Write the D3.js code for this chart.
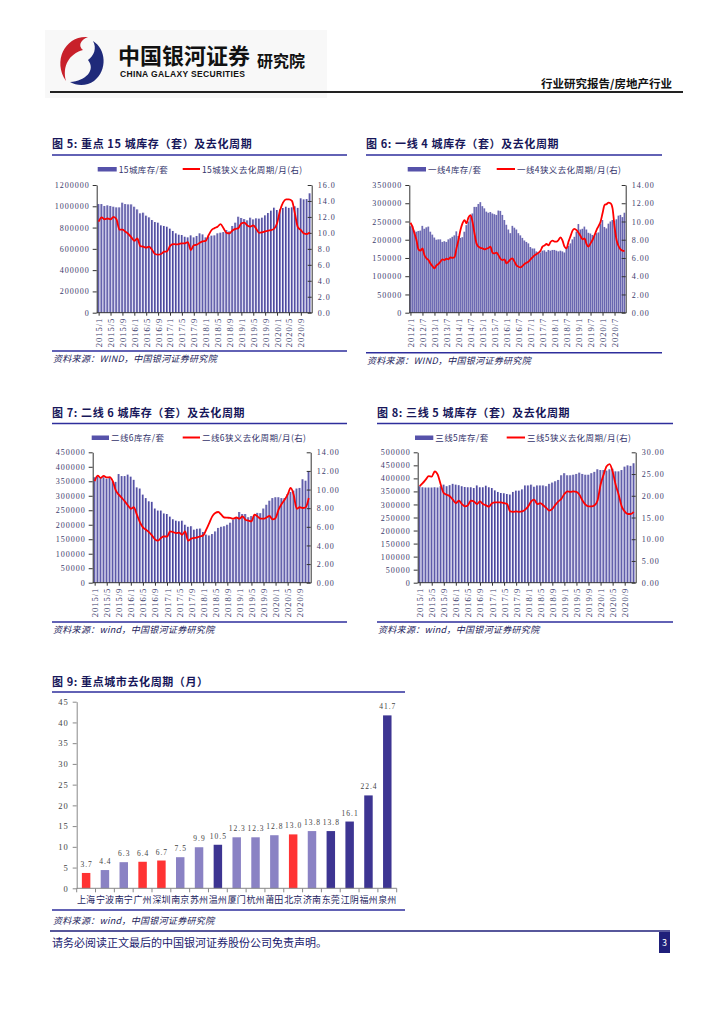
<!DOCTYPE html>
<html>
<head>
<meta charset="utf-8">
<script src="https://cdn.jsdelivr.net/npm/d3@7"></script>
<style>
body { margin: 0; background: #fff; }
svg text { font-family: "Noto Sans CJK SC", sans-serif; }
.tick text, .num { font-family: "Liberation Serif", "DejaVu Serif", serif; letter-spacing: 1px; }
.title { font-size: 11px; font-weight: bold; fill: #17175a; letter-spacing: 0.6px; }
.legend { font-size: 8.5px; fill: #33336b; letter-spacing: 0.4px; }
.src { font-size: 9px; font-style: italic; fill: #22225a; letter-spacing: 0.3px; }
</style>
</head>
<body>
<svg id="page" width="724" height="1024"></svg>
<script>
// ---- data ----
// 图5 重点15城 (2015/1 - 2020/12, monthly)
var inv15 = [1021000,1021000,1003000,1009000,1003000,996000,990000,990000,1034000,1021000,
  1018000,1018000,996000,971000,934000,940000,912000,896000,871000,852000,
  846000,821000,815000,808000,790000,768000,746000,733000,730000,714000,
  708000,727000,708000,721000,746000,736000,708000,714000,724000,727000,
  746000,752000,758000,777000,764000,815000,846000,902000,890000,880000,
  868000,893000,877000,887000,884000,893000,915000,937000,959000,987000,
  965000,971000,984000,996000,985000,990000,1000000,985000,1075000,1065000,
  1068000,1122000];
var cycle15 = [11.4,11.95,11.7,11.8,11.7,12.0,11.7,10.4,10.4,10.15,
  9.86,9.44,9.0,9.3,8.35,8.27,8.15,8.27,7.85,7.35,
  7.27,7.35,7.64,7.69,8.35,8.6,8.56,8.6,8.69,8.69,
  8.85,7.85,8.45,8.52,8.77,8.94,9.0,9.73,10.36,10.6,
  10.78,11.1,10.57,10.0,9.94,10.3,10.5,10.6,11.2,11.28,
  10.94,10.78,10.94,10.5,10.0,10.07,10.19,10.28,10.36,10.5,
  11.2,12.8,13.8,14.2,14.2,14.0,12.45,10.7,10.36,9.94,
  9.86,10.07];

// 图6 一线4城 (2012/1 - 2020/12)
var inv1 = [237,238,225,222,224,225,238,230,234,236,
  222,214,206,200,201,201,194,196,194,201,
  204,208,212,223,210,205,207,222,240,250,
  262,272,290,290,298,303,292,286,277,274,
  276,272,270,268,280,279,268,254,241,228,
  218,238,233,228,218,212,205,198,194,190,
  180,176,176,168,165,165,170,171,167,172,
  170,172,172,170,168,170,168,165,177,183,
  190,201,208,222,243,228,230,236,228,219,
  217,213,210,218,220,243,254,235,231,244,
  250,254,252,256,266,268,262,274].map(function(v){ return v * 1000; });
var cycle1 = [9.87,9.43,8.7,7.97,6.94,6.8,7.05,6.3,5.96,5.77,
  5.4,5.1,4.86,5.19,5.34,5.6,5.85,5.77,5.92,5.85,
  6.07,6.0,6.07,7.05,7.97,9.06,9.8,10.16,9.8,10.45,
  10.7,9.98,8.7,7.6,7.24,7.1,7.06,6.94,7.02,7.1,
  7.24,6.58,6.5,6.58,6.3,5.92,5.77,5.85,5.4,5.6,
  5.85,5.96,5.6,5.19,5.04,4.97,5.12,5.34,5.48,5.6,
  5.85,6.07,6.29,6.43,6.58,6.8,7.24,7.38,7.53,7.38,
  7.75,7.9,7.8,7.8,7.97,8.26,7.9,7.24,7.05,7.79,
  8.4,9.0,9.2,9.06,8.77,8.4,8.04,8.15,7.53,7.24,
  7.6,7.97,8.5,9.06,9.5,9.98,10.9,11.8,11.9,12.06,
  12.0,11.44,9.43,7.97,7.31,6.94,6.8,6.75];

// 图7 二线6城 (2015/1 - 2020/12)
var inv2 = [364,367,364,364,359,364,350,348,375,368,
  368,373,366,355,329,325,304,292,281,279,
  256,249,249,239,237,228,219,214,212,214,
  200,193,195,183,186,187,175,166,163,168,
  177,189,193,195,200,207,218,223,244,237,
  237,226,230,232,241,240,256,269,283,292,
  295,295,292,292,306,313,318,325,327,357,
  352,385].map(function(v){ return v * 1000; });
var cycle2 = [10.9,11.5,11.25,11.46,11.3,11.33,10.9,9.9,9.45,9.1,
  8.73,8.3,7.95,8.1,7.3,6.5,5.94,5.69,5.44,5.08,
  4.65,4.51,4.8,4.98,4.94,5.5,5.44,5.33,5.37,5.15,
  5.5,4.51,4.73,4.8,4.87,4.98,5.08,5.69,6.4,7.12,
  7.48,7.59,7.3,7.0,6.98,6.95,6.87,7.0,6.87,7.12,
  6.77,6.66,6.59,7.3,7.12,6.87,6.87,7.0,7.16,6.8,
  6.94,7.84,8.45,8.9,9.45,10.17,9.45,7.95,8.1,8.02,
  8.1,9.1];

// 图8 三线5城 (2015/1 - 2020/12)
var inv3 = [370,366,365,365,365,366,365,370,376,370,
  374,379,376,374,370,367,366,366,363,373,
  366,366,372,366,363,354,348,344,343,340,
  338,348,353,353,358,373,373,376,368,373,
  373,373,370,379,384,389,394,412,420,412,
  412,414,417,422,417,414,414,420,425,435,
  432,432,430,435,437,427,427,432,445,450,
  448,458].map(function(v){ return v * 1000; });
var cycle3 = [22.2,22.9,23.7,24.5,24.4,25.6,24.85,22.55,20.6,20.25,
  19.9,19.1,18.3,18.9,18.1,17.56,17.8,18.9,18.7,18.1,
  18.7,18.1,17.8,17.5,18.3,18.5,18.5,18.5,18.3,18.1,
  16.4,16.3,16.4,16.3,16.4,16.8,17.56,18.7,19.1,18.1,
  18.3,17.8,17.2,16.6,17.0,17.9,18.7,19.3,20.4,21.0,
  20.9,21.0,20.9,20.25,18.9,17.95,17.56,17.56,17.8,18.9,
  22.55,24.85,26.8,27.3,25.6,22.55,20.25,17.56,16.4,15.8,
  15.8,16.3];

// 图9 重点城市去化周期（月）
var cities = ["上海","宁波","南宁","广州","深圳","南京","苏州","温州","厦门","杭州","莆田","北京","济南","东莞","江阴","福州","泉州"];
var cityCycle = [3.7,4.4,6.3,6.4,6.7,7.5,9.9,10.5,12.3,12.3,12.8,13.0,13.8,13.8,16.1,22.4,41.7];
var cityGroup = ["a","b","b","a","a","b","b","c","b","b","b","a","b","c","c","c","c"];

function monthSeq(y0, m0, n) {
  var out = [];
  for (var i = 0; i < n; i++) {
    var m = m0 - 1 + i;
    out.push((y0 + Math.floor(m / 12)) + "/" + (m % 12 + 1));
  }
  return out;
}

var svg = d3.select("#page");
var defs = svg.append("defs");
var grad = defs.append("linearGradient").attr("id", "barGrad").attr("x1", 0).attr("x2", 1).attr("y1", 0).attr("y2", 0);
grad.append("stop").attr("offset", "0%").attr("stop-color", "#2a2784");
grad.append("stop").attr("offset", "100%").attr("stop-color", "#aeabe0");

// ---- header ----
svg.append("rect").attr("x", 45).attr("y", 30).attr("width", 282).attr("height", 68).attr("fill", "#f8f8f8");
svg.append("path").attr("fill", "#c8202a")
  .attr("d", "M88,37 C66,35 52,60 66,81 C62,66 69,54 83,50 C78,46 80,40 88,37 Z");
svg.append("path").attr("fill", "#1f2a7a")
  .attr("d", "M93,41 C106,49 108,70 94,81 C87,86 77,86 70,82 C86,81 96,70 88,60 C94,56 97,48 93,41 Z");
svg.append("text").attr("x", 118).attr("y", 64).attr("font-size", 22).attr("font-weight", "bold")
  .attr("fill", "#111").text("中国银河证券");
svg.append("text").attr("x", 120).attr("y", 77).attr("font-size", 8.5).attr("font-weight", "bold")
  .style("font-family", "Liberation Sans").attr("textLength", 125).attr("fill", "#111")
  .text("CHINA GALAXY SECURITIES");
svg.append("text").attr("x", 257).attr("y", 67).attr("font-size", 16).attr("font-weight", "bold")
  .attr("fill", "#111").text("研究院");
svg.append("text").attr("x", 672).attr("y", 88).attr("text-anchor", "end").attr("font-size", 11.5)
  .attr("font-weight", "bold").attr("fill", "#111").text("行业研究报告/房地产行业");
svg.append("line").attr("x1", 50).attr("x2", 683).attr("y1", 92).attr("y2", 92)
  .attr("stroke", "#222").attr("stroke-width", 2);

function rule(x1, x2, y) {
  svg.append("line").attr("x1", x1).attr("x2", x2).attr("y1", y).attr("y2", y)
    .attr("stroke", "#2e2e9c").attr("stroke-width", 1.5);
}

function styleAxis(a) {
  a.select(".domain").attr("stroke", "#333");
  a.selectAll(".tick line").attr("stroke", "#333");
  a.selectAll(".tick text").attr("fill", "#3b3b6b").attr("font-size", 8);
}

function drawCombo(c) {
  var g = svg.append("g");
  var n = c.bars.length;
  var x = d3.scaleBand().domain(d3.range(n)).range([c.left, c.right]).paddingInner(c.gap).paddingOuter(c.gap);
  var y = d3.scaleLinear().domain([0, c.yMax]).range([c.bottom, c.top]);
  var y2 = d3.scaleLinear().domain([0, c.y2Max]).range([c.bottom, c.top]);

  g.append("text").attr("class", "title").attr("x", c.x0).attr("y", c.titleY).text(c.title);
  rule(c.x0, c.x1, c.titleY + 7);

  // legend
  g.append("rect").attr("x", c.lg[0]).attr("y", c.titleY + 19).attr("width", c.lg[1] - c.lg[0]).attr("height", 4.5)
    .attr("fill", "#5652aa");
  g.append("text").attr("class", "legend").attr("x", c.lg[1] + 2).attr("y", c.titleY + 24.5).text(c.barName);
  g.append("line").attr("x1", c.lg[2]).attr("x2", c.lg[3]).attr("y1", c.titleY + 21).attr("y2", c.titleY + 21)
    .attr("stroke", "#ff0000").attr("stroke-width", 2);
  g.append("text").attr("class", "legend").attr("x", c.lg[3] + 2).attr("y", c.titleY + 24.5).text(c.lineName);

  g.selectAll("rect.bar").data(c.bars).join("rect").attr("class", "bar")
    .attr("x", function(d, i){ return x(i); })
    .attr("y", function(d){ return y(d); })
    .attr("width", x.bandwidth())
    .attr("height", function(d){ return c.bottom - y(d); })
    .attr("fill", "url(#barGrad)");

  var la = g.append("g").attr("transform", "translate(" + c.left + ",0)")
    .call(d3.axisLeft(y).tickValues(d3.range(0, c.yMax + 1, c.yStep)).tickSize(4).tickSizeOuter(0)
      .tickPadding(3).tickFormat(d3.format("d")));
  styleAxis(la);
  var ra = g.append("g").attr("transform", "translate(" + c.right + ",0)")
    .call(d3.axisRight(y2).tickValues(d3.range(0, c.y2Max + 0.001, c.y2Step)).tickSize(-4).tickSizeOuter(0)
      .tickPadding(6).tickFormat(d3.format(c.y2Fmt)));
  styleAxis(ra);

  var cx = function(i){ return x(i) + x.bandwidth() / 2; };
  var ba = g.append("g").attr("transform", "translate(0," + c.bottom + ")")
    .call(d3.axisBottom(d3.scaleLinear().domain([0, n - 1]).range([cx(0), cx(n - 1)]))
      .tickValues(d3.range(0, n, c.every)).tickSize(3).tickSizeOuter(0).tickFormat(function(i){ return c.months[i]; }));
  ba.select(".domain").remove();
  ba.append("line").attr("x1", c.left).attr("x2", c.right).attr("stroke", "#333");
  styleAxis(ba);
  ba.selectAll(".tick text").attr("transform", "rotate(-90)").attr("text-anchor", "end")
    .attr("x", -5).attr("y", 0).attr("dy", "0.35em").attr("font-size", 8.5);

  var line = d3.line().x(function(d, i){ return cx(i); }).y(function(d){ return y2(d); }).curve(d3.curveMonotoneX);
  g.append("path").datum(c.line).attr("d", line).attr("fill", "none").attr("stroke", "#ff0000").attr("stroke-width", 1.8);

  rule(c.x0, c.x1, c.srcY);
  g.append("text").attr("class", "src").attr("x", c.x0 + 1).attr("y", c.srcY + 11).text(c.src);
}

drawCombo({ title: "图 5:  重点 15 城库存（套）及去化周期", x0: 52, x1: 347, titleY: 148,
  left: 96.7, right: 311.7, top: 185, bottom: 312.7, gap: 0.3,
  bars: inv15, line: cycle15, months: monthSeq(2015, 1, 72), every: 4,
  yMax: 1200000, yStep: 200000, y2Max: 16, y2Step: 2, y2Fmt: ".1f",
  lg: [97.7, 116.7, 182.7, 200], barName: "15城库存/套", lineName: "15城狭义去化周期/月(右)",
  srcY: 351, src: "资料来源：WIND，中国银河证券研究院" });

drawCombo({ title: "图 6:  一线 4 城库存（套）及去化周期", x0: 366, x1: 662, titleY: 148,
  left: 409.3, right: 625.7, top: 185, bottom: 312.7, gap: 0.15,
  bars: inv1, line: cycle1, months: monthSeq(2012, 1, 108), every: 6,
  yMax: 350000, yStep: 50000, y2Max: 14, y2Step: 2, y2Fmt: ".2f",
  lg: [407.7, 426, 496.7, 515], barName: "一线4库存/套", lineName: "一线4狭义去化周期/月(右)",
  srcY: 352.7, src: "资料来源：WIND，中国银河证券研究院" });

drawCombo({ title: "图 7:  二线 6 城库存（套）及去化周期", x0: 52, x1: 347, titleY: 416.5,
  left: 92.7, right: 310.7, top: 452.3, bottom: 582.7, gap: 0.3,
  bars: inv2, line: cycle2, months: monthSeq(2015, 1, 72), every: 4,
  yMax: 450000, yStep: 50000, y2Max: 14, y2Step: 2, y2Fmt: ".2f",
  lg: [91.7, 109, 182.7, 200], barName: "二线6库存/套", lineName: "二线6狭义去化周期/月(右)",
  srcY: 622, src: "资料来源：wind，中国银河证券研究院" });

drawCombo({ title: "图 8:  三线 5 城库存（套）及去化周期", x0: 377, x1: 673, titleY: 416.5,
  left: 417.7, right: 635.7, top: 452.3, bottom: 582.7, gap: 0.3,
  bars: inv3, line: cycle3, months: monthSeq(2015, 1, 72), every: 4,
  yMax: 500000, yStep: 50000, y2Max: 30, y2Step: 5, y2Fmt: ".2f",
  lg: [415, 433.3, 506.7, 525], barName: "三线5库存/套", lineName: "三线5狭义去化周期/月(右)",
  srcY: 622, src: "资料来源：wind，中国银河证券研究院" });

// ---- 图9 ----
(function() {
  var g = svg.append("g");
  var left = 76.7, right = 396.7, top = 701.7, bottom = 888.3;
  var colors = { a: "#ff3333", b: "#8a82c4", c: "#3d3592" };
  var x = d3.scaleBand().domain(cities).range([left, right]).paddingInner(0.55).paddingOuter(0.275);
  var y = d3.scaleLinear().domain([0, 45]).range([bottom, top]);

  g.append("text").attr("class", "title").attr("x", 52).attr("y", 685.5).text("图 9:  重点城市去化周期（月）");
  rule(52, 405, 692);

  g.selectAll("rect.cb").data(cityCycle).join("rect").attr("class", "cb")
    .attr("x", function(d, i){ return x(cities[i]); })
    .attr("y", function(d){ return y(d); })
    .attr("width", x.bandwidth())
    .attr("height", function(d){ return bottom - y(d); })
    .attr("fill", function(d, i){ return colors[cityGroup[i]]; });

  g.selectAll("text.vl").data(cityCycle).join("text").attr("class", "num vl")
    .attr("x", function(d, i){ return x(cities[i]) + x.bandwidth() / 2 + 0.5; })
    .attr("y", function(d){ return y(d) - 6; })
    .attr("text-anchor", "middle").attr("font-size", 7.5).attr("fill", "#444")
    .text(function(d){ return d3.format(".1f")(d); });

  var la = g.append("g").attr("transform", "translate(" + left + ",0)")
    .call(d3.axisLeft(y).tickValues(d3.range(0, 46, 5)).tickSize(4).tickSizeOuter(0).tickPadding(4));
  la.select(".domain").attr("stroke", "#888");
  la.selectAll(".tick line").attr("stroke", "#888");
  la.selectAll(".tick text").attr("fill", "#444").attr("font-size", 8.5);

  var ba = g.append("g").attr("transform", "translate(0," + bottom + ")");
  ba.append("line").attr("x1", left).attr("x2", right).attr("stroke", "#888");
  ba.selectAll("line.tk").data(d3.range(cities.length + 1)).join("line").attr("class", "tk")
    .attr("x1", function(i){ return left + i * x.step(); })
    .attr("x2", function(i){ return left + i * x.step(); })
    .attr("y1", 0).attr("y2", 4).attr("stroke", "#888");
  ba.selectAll("text").data(cities).join("text")
    .attr("x", function(d){ return x(d) + x.bandwidth() / 2; })
    .attr("y", 15).attr("text-anchor", "middle").attr("font-size", 9).attr("fill", "#1c1c5e")
    .text(function(d){ return d; });

  rule(52, 405, 910);
  g.append("text").attr("class", "src").attr("x", 53).attr("y", 923.5).text("资料来源：wind，中国银河证券研究院");
})();

// ---- footer ----
svg.append("line").attr("x1", 50).attr("x2", 670).attr("y1", 931).attr("y2", 931)
  .attr("stroke", "#1f1f7a").attr("stroke-width", 1.5);
svg.append("text").attr("x", 52).attr("y", 947).attr("font-size", 11).attr("fill", "#1a1a6e")
  .text("请务必阅读正文最后的中国银河证券股份公司免责声明。");
svg.append("rect").attr("x", 659).attr("y", 932).attr("width", 11).attr("height", 21).attr("fill", "#1f1f7a");
svg.append("text").attr("x", 664.5).attr("y", 946).attr("text-anchor", "middle").attr("font-size", 9)
  .attr("fill", "#fff").text("3");
</script>
</body>
</html>
